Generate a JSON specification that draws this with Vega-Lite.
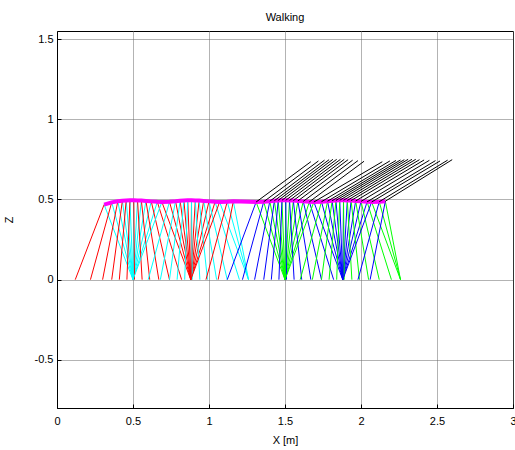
{
  "$schema": "https://vega.github.io/schema/vega-lite/v6.json",
  "width": 456,
  "height": 377,
  "autosize": {"type": "none"},
  "padding": {"left": 57, "top": 31, "right": 2, "bottom": 42},
  "background": "white",
  "title": {"text": "Walking", "fontSize": 11, "fontWeight": "normal", "font": "Liberation Sans", "color": "#000", "offset": 8},
  "config": {
    "view": {"stroke": "#000", "strokeWidth": 1},
    "axis": {"labelFont": "Liberation Sans", "labelFontSize": 11, "labelColor": "#000", "titleFont": "Liberation Sans", "titleFontSize": 11, "titleFontWeight": "normal", "titleColor": "#000", "grid": true, "gridColor": "#666", "gridDash": [1, 1], "gridWidth": 1, "domainColor": "#000", "ticks": true, "tickSize": -4, "tickColor": "#000", "labelExpr": "'' + datum.value"}
  },
  "datasets": {
    "frames": [
      {"run": 1, "h": 0.31, "hz": 0.468, "sx": 0.5, "sc": "#00ffff", "wx": 0.12, "wc": "#ff0000"},
      {"run": 1, "h": 0.36, "hz": 0.482, "sx": 0.5, "sc": "#00ffff", "wx": 0.22, "wc": "#ff0000"},
      {"run": 1, "h": 0.40, "hz": 0.489, "sx": 0.5, "sc": "#00ffff", "wx": 0.30, "wc": "#ff0000"},
      {"run": 1, "h": 0.43, "hz": 0.492, "sx": 0.5, "sc": "#00ffff", "wx": 0.36, "wc": "#ff0000"},
      {"run": 1, "h": 0.455, "hz": 0.494, "sx": 0.5, "sc": "#00ffff", "wx": 0.41, "wc": "#ff0000"},
      {"run": 1, "h": 0.48, "hz": 0.495, "sx": 0.5, "sc": "#00ffff", "wx": 0.46, "wc": "#ff0000"},
      {"run": 1, "h": 0.505, "hz": 0.495, "sx": 0.5, "sc": "#00ffff", "wx": 0.51, "wc": "#ff0000"},
      {"run": 1, "h": 0.53, "hz": 0.494, "sx": 0.5, "sc": "#00ffff", "wx": 0.56, "wc": "#ff0000"},
      {"run": 1, "h": 0.555, "hz": 0.493, "sx": 0.5, "sc": "#00ffff", "wx": 0.61, "wc": "#ff0000"},
      {"run": 1, "h": 0.585, "hz": 0.491, "sx": 0.5, "sc": "#00ffff", "wx": 0.67, "wc": "#ff0000"},
      {"run": 1, "h": 0.62, "hz": 0.488, "sx": 0.5, "sc": "#00ffff", "wx": 0.74, "wc": "#ff0000"},
      {"run": 1, "h": 0.66, "hz": 0.485, "sx": 0.5, "sc": "#00ffff", "wx": 0.82, "wc": "#ff0000"},
      {"run": 1, "h": 0.69, "hz": 0.484, "sx": 0.88, "sc": "#ff0000", "wx": 0.5, "wc": "#00ffff"},
      {"run": 1, "h": 0.74, "hz": 0.486, "sx": 0.88, "sc": "#ff0000", "wx": 0.6, "wc": "#00ffff"},
      {"run": 1, "h": 0.78, "hz": 0.489, "sx": 0.88, "sc": "#ff0000", "wx": 0.68, "wc": "#00ffff"},
      {"run": 1, "h": 0.81, "hz": 0.492, "sx": 0.88, "sc": "#ff0000", "wx": 0.74, "wc": "#00ffff"},
      {"run": 1, "h": 0.835, "hz": 0.494, "sx": 0.88, "sc": "#ff0000", "wx": 0.79, "wc": "#00ffff"},
      {"run": 1, "h": 0.86, "hz": 0.495, "sx": 0.88, "sc": "#ff0000", "wx": 0.84, "wc": "#00ffff"},
      {"run": 1, "h": 0.885, "hz": 0.495, "sx": 0.88, "sc": "#ff0000", "wx": 0.89, "wc": "#00ffff"},
      {"run": 1, "h": 0.91, "hz": 0.494, "sx": 0.88, "sc": "#ff0000", "wx": 0.94, "wc": "#00ffff"},
      {"run": 1, "h": 0.935, "hz": 0.493, "sx": 0.88, "sc": "#ff0000", "wx": 0.99, "wc": "#00ffff"},
      {"run": 1, "h": 0.965, "hz": 0.491, "sx": 0.88, "sc": "#ff0000", "wx": 1.05, "wc": "#00ffff"},
      {"run": 1, "h": 1.0, "hz": 0.488, "sx": 0.88, "sc": "#ff0000", "wx": 1.12, "wc": "#00ffff"},
      {"run": 1, "h": 1.04, "hz": 0.485, "sx": 0.88, "sc": "#ff0000", "wx": 1.2, "wc": "#00ffff"},
      {"run": 1, "h": 1.07, "hz": 0.484, "sx": 1.26, "sc": "#00ffff", "wx": 0.88, "wc": "#ff0000"},
      {"run": 1, "h": 1.12, "hz": 0.486, "sx": 1.26, "sc": "#00ffff", "wx": 0.98, "wc": "#ff0000"},
      {"run": 1, "h": 1.16, "hz": 0.489, "sx": 1.26, "sc": "#00ffff", "wx": 1.06, "wc": "#ff0000"},
      {"run": 2, "h": 1.31, "hz": 0.484, "sx": 1.5, "sc": "#00ff00", "wx": 1.12, "wc": "#0000ff", "tx": 1.67, "tz": 0.735},
      {"run": 2, "h": 1.36, "hz": 0.486, "sx": 1.5, "sc": "#00ff00", "wx": 1.22, "wc": "#0000ff", "tx": 1.72, "tz": 0.74},
      {"run": 2, "h": 1.40, "hz": 0.489, "sx": 1.5, "sc": "#00ff00", "wx": 1.30, "wc": "#0000ff", "tx": 1.76, "tz": 0.745},
      {"run": 2, "h": 1.43, "hz": 0.492, "sx": 1.5, "sc": "#00ff00", "wx": 1.36, "wc": "#0000ff", "tx": 1.79, "tz": 0.748},
      {"run": 2, "h": 1.455, "hz": 0.494, "sx": 1.5, "sc": "#00ff00", "wx": 1.41, "wc": "#0000ff", "tx": 1.815, "tz": 0.75},
      {"run": 2, "h": 1.48, "hz": 0.495, "sx": 1.5, "sc": "#00ff00", "wx": 1.46, "wc": "#0000ff", "tx": 1.84, "tz": 0.75},
      {"run": 2, "h": 1.505, "hz": 0.495, "sx": 1.5, "sc": "#00ff00", "wx": 1.51, "wc": "#0000ff", "tx": 1.865, "tz": 0.75},
      {"run": 2, "h": 1.53, "hz": 0.494, "sx": 1.5, "sc": "#00ff00", "wx": 1.56, "wc": "#0000ff", "tx": 1.89, "tz": 0.75},
      {"run": 2, "h": 1.555, "hz": 0.493, "sx": 1.5, "sc": "#00ff00", "wx": 1.61, "wc": "#0000ff", "tx": 1.915, "tz": 0.748},
      {"run": 2, "h": 1.585, "hz": 0.491, "sx": 1.5, "sc": "#00ff00", "wx": 1.67, "wc": "#0000ff", "tx": 1.945, "tz": 0.745},
      {"run": 2, "h": 1.62, "hz": 0.488, "sx": 1.5, "sc": "#00ff00", "wx": 1.74, "wc": "#0000ff", "tx": 1.98, "tz": 0.742},
      {"run": 2, "h": 1.66, "hz": 0.485, "sx": 1.5, "sc": "#00ff00", "wx": 1.82, "wc": "#0000ff", "tx": 2.02, "tz": 0.738},
      {"run": 2, "h": 1.69, "hz": 0.484, "sx": 1.88, "sc": "#0000ff", "wx": 1.5, "wc": "#00ff00", "tx": 2.14, "tz": 0.735},
      {"run": 2, "h": 1.74, "hz": 0.486, "sx": 1.88, "sc": "#0000ff", "wx": 1.6, "wc": "#00ff00", "tx": 2.19, "tz": 0.74},
      {"run": 2, "h": 1.78, "hz": 0.489, "sx": 1.88, "sc": "#0000ff", "wx": 1.68, "wc": "#00ff00", "tx": 2.23, "tz": 0.743},
      {"run": 2, "h": 1.81, "hz": 0.492, "sx": 1.88, "sc": "#0000ff", "wx": 1.74, "wc": "#00ff00", "tx": 2.26, "tz": 0.746},
      {"run": 2, "h": 1.835, "hz": 0.494, "sx": 1.88, "sc": "#0000ff", "wx": 1.79, "wc": "#00ff00", "tx": 2.285, "tz": 0.748},
      {"run": 2, "h": 1.86, "hz": 0.495, "sx": 1.88, "sc": "#0000ff", "wx": 1.84, "wc": "#00ff00", "tx": 2.31, "tz": 0.75},
      {"run": 2, "h": 1.885, "hz": 0.495, "sx": 1.88, "sc": "#0000ff", "wx": 1.89, "wc": "#00ff00", "tx": 2.335, "tz": 0.75},
      {"run": 2, "h": 1.91, "hz": 0.494, "sx": 1.88, "sc": "#0000ff", "wx": 1.94, "wc": "#00ff00", "tx": 2.36, "tz": 0.75},
      {"run": 2, "h": 1.935, "hz": 0.493, "sx": 1.88, "sc": "#0000ff", "wx": 1.99, "wc": "#00ff00", "tx": 2.385, "tz": 0.748},
      {"run": 2, "h": 1.965, "hz": 0.491, "sx": 1.88, "sc": "#0000ff", "wx": 2.05, "wc": "#00ff00", "tx": 2.415, "tz": 0.746},
      {"run": 2, "h": 2.0, "hz": 0.488, "sx": 1.88, "sc": "#0000ff", "wx": 2.12, "wc": "#00ff00", "tx": 2.45, "tz": 0.744},
      {"run": 2, "h": 2.04, "hz": 0.485, "sx": 1.88, "sc": "#0000ff", "wx": 2.2, "wc": "#00ff00", "tx": 2.49, "tz": 0.742},
      {"run": 2, "h": 2.07, "hz": 0.484, "sx": 2.26, "sc": "#00ff00", "wx": 1.88, "wc": "#0000ff", "tx": 2.52, "tz": 0.74},
      {"run": 2, "h": 2.12, "hz": 0.486, "sx": 2.26, "sc": "#00ff00", "wx": 1.98, "wc": "#0000ff", "tx": 2.57, "tz": 0.745},
      {"run": 2, "h": 2.16, "hz": 0.489, "sx": 2.26, "sc": "#00ff00", "wx": 2.06, "wc": "#0000ff", "tx": 2.6, "tz": 0.748}
    ]
  },
  "data": {"name": "frames"},
  "encoding": {
    "x": {"field": "h", "type": "quantitative", "scale": {"domain": [0, 3], "nice": false, "zero": false}, "axis": {"title": "X [m]", "values": [0, 0.5, 1, 1.5, 2, 2.5, 3], "labelPadding": 11, "titlePadding": 8, "labelFlush": false}},
    "y": {"field": "hz", "type": "quantitative", "scale": {"domain": [-0.8, 1.55], "nice": false, "zero": false}, "axis": {"title": "Z", "values": [-0.5, 0, 0.5, 1, 1.5], "labelPadding": 8, "titlePadding": 20}}
  },
  "layer": [
    {"mark": {"type": "rule", "strokeWidth": 1}, "encoding": {"x2": {"field": "sx"}, "y2": {"datum": 0}, "color": {"field": "sc", "type": "nominal", "scale": null}}},
    {"mark": {"type": "rule", "strokeWidth": 1}, "encoding": {"x2": {"field": "wx"}, "y2": {"datum": 0}, "color": {"field": "wc", "type": "nominal", "scale": null}}},
    {"mark": {"type": "line", "color": "#ff00ff", "strokeWidth": 4}, "encoding": {}},
    {"transform": [{"filter": "datum.run == 2"}], "mark": {"type": "rule", "color": "#000", "strokeWidth": 1}, "encoding": {"x2": {"field": "tx"}, "y2": {"field": "tz"}}}
  ]
}
